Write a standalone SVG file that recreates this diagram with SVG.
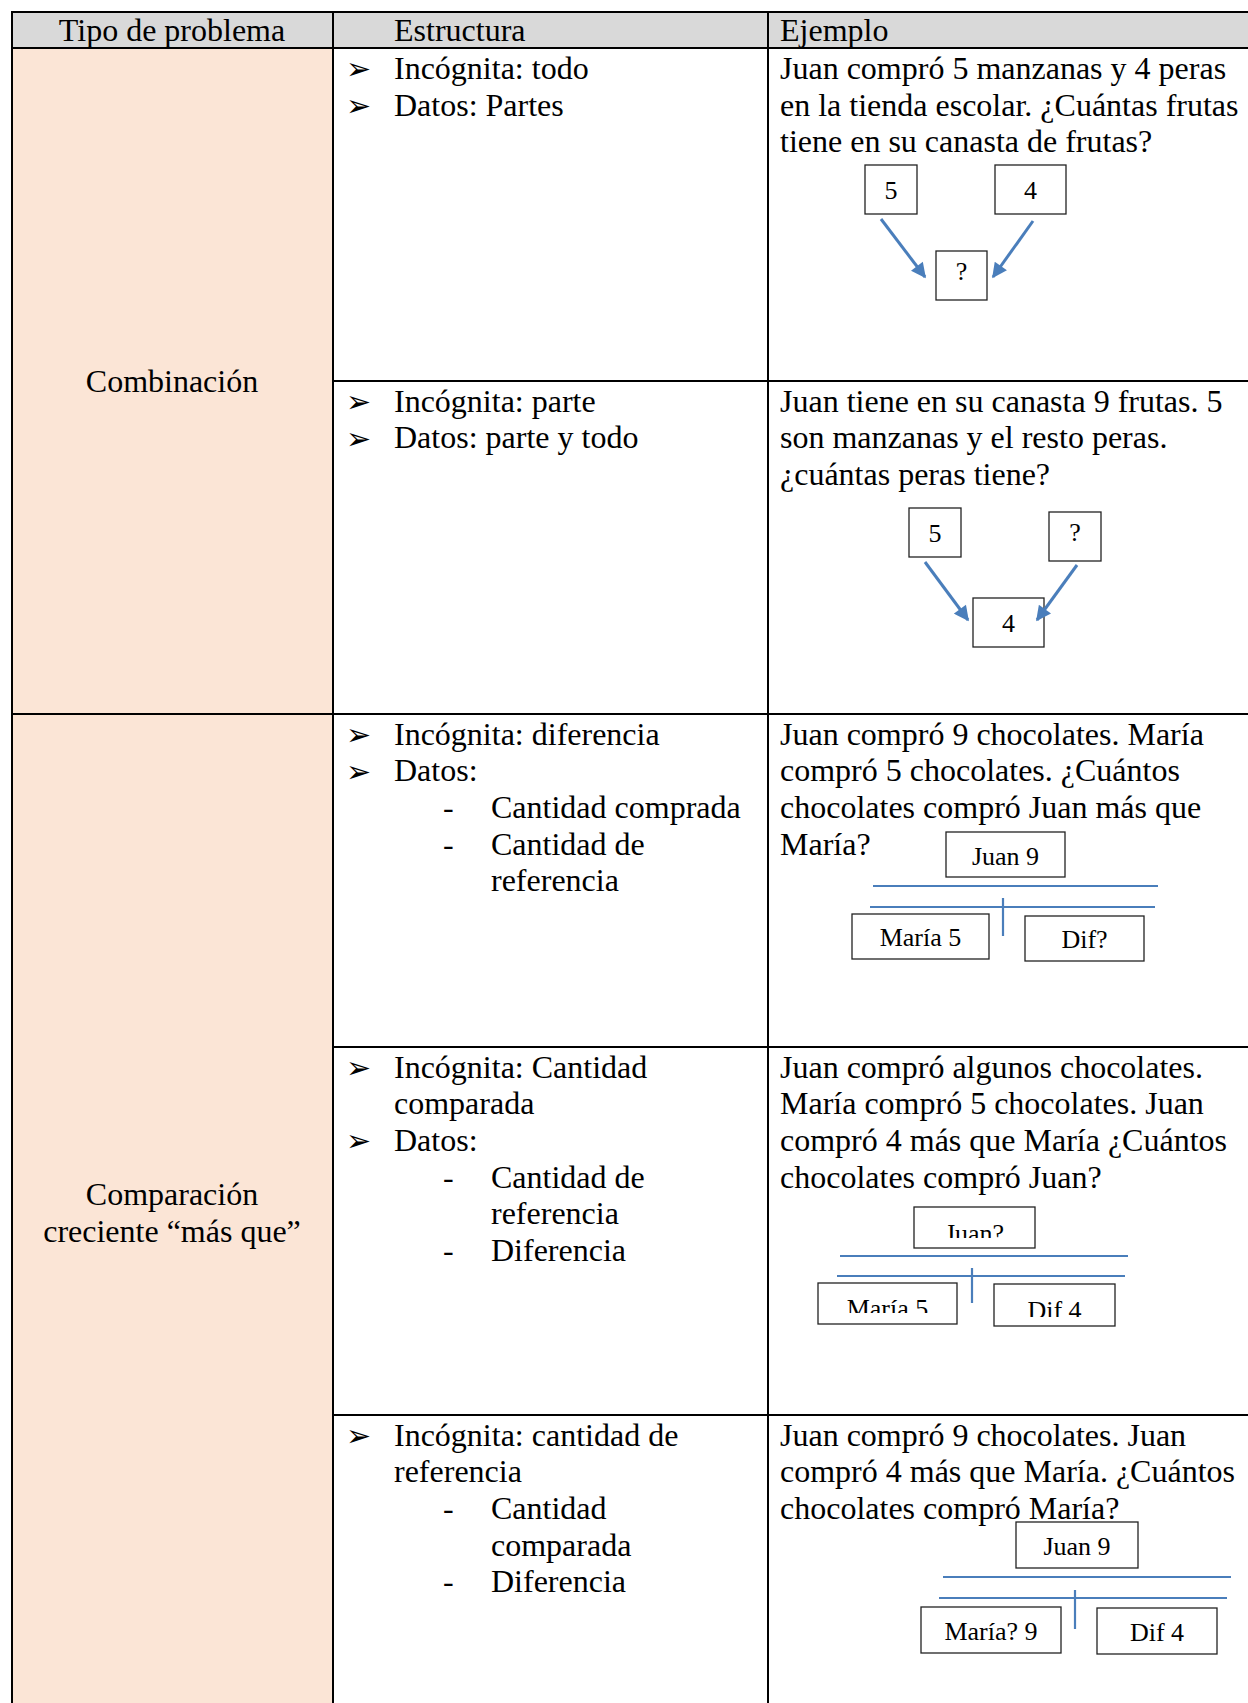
<svg xmlns="http://www.w3.org/2000/svg" width="1248" height="1703" viewBox="0 0 1248 1703">
<style>
.t{font-family:"Liberation Serif","Times New Roman",serif;font-size:32px;fill:#000}
.h{font-family:"Liberation Serif","Times New Roman",serif;font-size:32px;fill:#000}
.b{font-family:"DejaVu Sans",sans-serif;font-size:30px;fill:#000}
.d{font-family:"Liberation Serif","Times New Roman",serif;font-size:26px;fill:#000;text-anchor:middle}
.grid{stroke:#000;stroke-width:2;fill:none}
.box{fill:#fff;stroke:#222;stroke-width:1.3}
.bl{stroke:#4a7ebb;stroke-width:2.2;fill:none}
.ar{stroke:#4a7ebb;stroke-width:3;fill:none}
</style>
<defs>
<marker id="arr" viewBox="0 0 10 10" refX="9" refY="5" markerWidth="17" markerHeight="15" markerUnits="userSpaceOnUse" orient="auto">
<path d="M0,0 L10,5 L0,10 z" fill="#4a7ebb"/>
</marker>
<clipPath id="c1"><rect x="914" y="1207" width="121" height="31"/></clipPath>
<clipPath id="c2"><rect x="818" y="1283" width="139" height="30"/></clipPath>
<clipPath id="c3"><rect x="994" y="1284" width="121" height="33"/></clipPath>
</defs>
<rect width="1248" height="1703" fill="#fff"/>
<g id="backgrounds">
<rect x="12" y="12" width="1236" height="36" fill="#d9d9d9"/>
<rect x="12" y="48" width="321" height="1655" fill="#fbe5d6"/>
</g>
<g id="grid">
<line class="grid" x1="12" y1="12" x2="1248" y2="12"/>
<line class="grid" x1="12" y1="48" x2="1248" y2="48"/>
<line class="grid" x1="333" y1="381" x2="1248" y2="381"/>
<line class="grid" x1="12" y1="714" x2="1248" y2="714"/>
<line class="grid" x1="333" y1="1047" x2="1248" y2="1047"/>
<line class="grid" x1="333" y1="1415" x2="1248" y2="1415"/>
<line class="grid" x1="12" y1="11" x2="12" y2="1703"/>
<line class="grid" x1="333" y1="11" x2="333" y2="1703"/>
<line class="grid" x1="768" y1="11" x2="768" y2="1703"/>
</g>
<g id="header">
<text class="h" x="172" y="41" text-anchor="middle">Tipo de problema</text>
<text class="h" x="394" y="41">Estructura</text>
<text class="h" x="780" y="41">Ejemplo</text>
</g>
<g id="tipo-combinacion">
<text class="t" x="172" y="392" text-anchor="middle">Combinación</text>
</g>
<g id="tipo-comparacion">
<text class="t" x="172" y="1205" text-anchor="middle">Comparación</text>
<text class="t" x="172" y="1242" text-anchor="middle">creciente “más que”</text>
</g>
<g id="estructura-1">
<text class="b" x="346" y="79">➢</text><text class="t" x="394" y="79">Incógnita: todo</text>
<text class="b" x="346" y="116">➢</text><text class="t" x="394" y="115.7">Datos: Partes</text>
</g>
<g id="ejemplo-1">
<text class="t" x="780" y="79">Juan compró 5 manzanas y 4 peras</text>
<text class="t" x="780" y="115.7">en la tienda escolar. ¿Cuántas frutas</text>
<text class="t" x="780" y="152.4">tiene en su canasta de frutas?</text>
<g id="d1-5"><rect class="box" x="865" y="165" width="52" height="49"/><text class="d" x="891" y="199">5</text></g>
<g id="d1-4"><rect class="box" x="995" y="165" width="71" height="49"/><text class="d" x="1030.5" y="199">4</text></g>
<g id="d1-q"><rect class="box" x="936" y="251" width="51" height="49"/><text class="d" x="961.5" y="280">?</text></g>
</g>
<g id="estructura-2">
<text class="b" x="346" y="412">➢</text><text class="t" x="394" y="411.5">Incógnita: parte</text>
<text class="b" x="346" y="448.5">➢</text><text class="t" x="394" y="448.2">Datos: parte y todo</text>
</g>
<g id="ejemplo-2">
<text class="t" x="780" y="411.5">Juan tiene en su canasta 9 frutas. 5</text>
<text class="t" x="780" y="448.2">son manzanas y el resto peras.</text>
<text class="t" x="780" y="484.9">¿cuántas peras tiene?</text>
<g id="d2-5"><rect class="box" x="909" y="508" width="52" height="49"/><text class="d" x="935" y="542">5</text></g>
<g id="d2-q"><rect class="box" x="1049" y="512" width="52" height="49"/><text class="d" x="1075" y="541">?</text></g>
<g id="d2-4"><rect class="box" x="973" y="598" width="71" height="49"/><text class="d" x="1008.5" y="632">4</text></g>
</g>
<g id="estructura-3">
<text class="b" x="346" y="745">➢</text><text class="t" x="394" y="744.5">Incógnita: diferencia</text>
<text class="b" x="346" y="781.5">➢</text><text class="t" x="394" y="781.2">Datos:</text>
<text class="t" x="443" y="817.9">-</text><text class="t" x="491" y="817.9">Cantidad comprada</text>
<text class="t" x="443" y="854.6">-</text><text class="t" x="491" y="854.6">Cantidad de</text>
<text class="t" x="491" y="891.3">referencia</text>
</g>
<g id="ejemplo-3">
<text class="t" x="780" y="744.5">Juan compró 9 chocolates. María</text>
<text class="t" x="780" y="781.2">compró 5 chocolates. ¿Cuántos</text>
<text class="t" x="780" y="817.9">chocolates compró Juan más que</text>
<text class="t" x="780" y="854.6">María?</text>
<g id="d3-juan"><rect class="box" x="946" y="832" width="119" height="45"/><text class="d" x="1005.5" y="865">Juan 9</text></g>
<g id="d3-maria"><rect class="box" x="852" y="914" width="137" height="45"/><text class="d" x="920.5" y="946">María 5</text></g>
<g id="d3-dif"><rect class="box" x="1025" y="916" width="119" height="45"/><text class="d" x="1084.5" y="948">Dif?</text></g>
</g>
<g id="estructura-4">
<text class="b" x="346" y="1078">➢</text><text class="t" x="394" y="1077.5">Incógnita: Cantidad</text>
<text class="t" x="394" y="1114.2">comparada</text>
<text class="b" x="346" y="1151">➢</text><text class="t" x="394" y="1150.9">Datos:</text>
<text class="t" x="443" y="1187.6">-</text><text class="t" x="491" y="1187.6">Cantidad de</text>
<text class="t" x="491" y="1224.3">referencia</text>
<text class="t" x="443" y="1261">-</text><text class="t" x="491" y="1261">Diferencia</text>
</g>
<g id="ejemplo-4">
<text class="t" x="780" y="1077.5">Juan compró algunos chocolates.</text>
<text class="t" x="780" y="1114.2">María compró 5 chocolates. Juan</text>
<text class="t" x="780" y="1150.9">compró 4 más que María ¿Cuántos</text>
<text class="t" x="780" y="1187.6">chocolates compró Juan?</text>
<g id="d4-juan"><rect class="box" x="914" y="1207" width="121" height="41"/><text class="d" x="974.5" y="1242" clip-path="url(#c1)">Juan?</text></g>
<g id="d4-maria"><rect class="box" x="818" y="1283" width="139" height="41"/><text class="d" x="887.5" y="1317" clip-path="url(#c2)">María 5</text></g>
<g id="d4-dif"><rect class="box" x="994" y="1284" width="121" height="42"/><text class="d" x="1054.5" y="1319" clip-path="url(#c3)">Dif 4</text></g>
</g>
<g id="estructura-5">
<text class="b" x="346" y="1446">➢</text><text class="t" x="394" y="1445.5">Incógnita: cantidad de</text>
<text class="t" x="394" y="1482.2">referencia</text>
<text class="t" x="443" y="1518.9">-</text><text class="t" x="491" y="1518.9">Cantidad</text>
<text class="t" x="491" y="1555.6">comparada</text>
<text class="t" x="443" y="1592.3">-</text><text class="t" x="491" y="1592.3">Diferencia</text>
</g>
<g id="ejemplo-5">
<text class="t" x="780" y="1445.5">Juan compró 9 chocolates. Juan</text>
<text class="t" x="780" y="1482.2">compró 4 más que María. ¿Cuántos</text>
<text class="t" x="780" y="1518.9">chocolates compró María?</text>
<g id="d5-juan"><rect class="box" x="1016" y="1522" width="122" height="46"/><text class="d" x="1077" y="1555">Juan 9</text></g>
<g id="d5-maria"><rect class="box" x="921" y="1607" width="140" height="46"/><text class="d" x="991" y="1640">María? 9</text></g>
<g id="d5-dif"><rect class="box" x="1097" y="1608" width="120" height="46"/><text class="d" x="1157" y="1641">Dif 4</text></g>
</g>
<g id="connectors">
<line class="ar" x1="881" y1="219" x2="925" y2="277" marker-end="url(#arr)"/>
<line class="ar" x1="1033" y1="221" x2="993" y2="277" marker-end="url(#arr)"/>
<line class="ar" x1="925" y1="562" x2="968" y2="620" marker-end="url(#arr)"/>
<line class="ar" x1="1077" y1="565" x2="1037" y2="620" marker-end="url(#arr)"/>
<line class="bl" x1="873" y1="886" x2="1158" y2="886"/>
<line class="bl" x1="870" y1="907" x2="1155" y2="907"/>
<line class="bl" x1="1003" y1="898" x2="1003" y2="936"/>
<line class="bl" x1="840" y1="1256" x2="1128" y2="1256"/>
<line class="bl" x1="837" y1="1276" x2="1125" y2="1276"/>
<line class="bl" x1="972" y1="1268" x2="972" y2="1303"/>
<line class="bl" x1="943" y1="1577" x2="1231" y2="1577"/>
<line class="bl" x1="939" y1="1598" x2="1227" y2="1598"/>
<line class="bl" x1="1075" y1="1590" x2="1075" y2="1629"/>
</g>
</svg>
